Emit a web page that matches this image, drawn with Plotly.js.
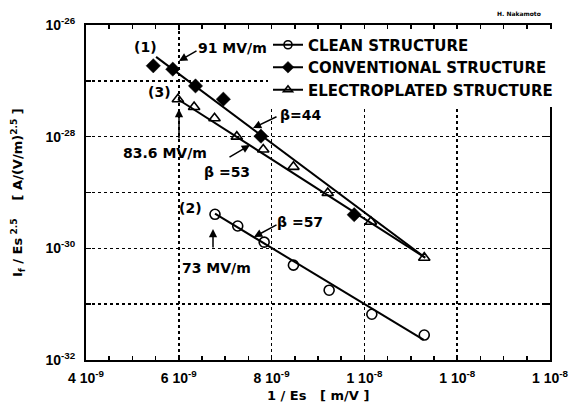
<!DOCTYPE html>
<html>
<head>
<meta charset="utf-8">
<script src="https://cdn.plot.ly/plotly-3.0.1.min.js"></script>
<style>html,body{margin:0;padding:0;background:#fff;}#chart{width:584px;height:409px;}</style>
</head>
<body>
<div id="chart"></div>
<script>
// ---- data (x: 1/Es in m/V, y: If/Es^2.5 in A/(V/m)^2.5) ----
const cleanX = [6.78e-9, 7.27e-9, 7.84e-9, 8.47e-9, 9.24e-9, 10.16e-9, 11.29e-9];
const cleanY = [4.07e-30, 2.51e-30, 1.29e-30, 5.0e-31, 1.78e-31, 6.6e-32, 2.8e-32];

const convX = [5.45e-9, 5.87e-9, 6.36e-9, 6.96e-9, 7.77e-9, 9.78e-9];
const convY = [1.86e-27, 1.62e-27, 8.1e-28, 4.7e-28, 1.02e-28, 4.0e-30];

const elecX = [5.98e-9, 6.33e-9, 6.77e-9, 7.25e-9, 7.82e-9, 8.47e-9, 9.21e-9, 10.14e-9, 11.29e-9];
const elecY = [4.68e-28, 3.39e-28, 2.14e-28, 1.0e-28, 5.9e-29, 2.88e-29, 9.8e-30, 3.0e-30, 6.8e-31];

// fitted lines (end points)
const fit1X = [5.51e-9, 11.31e-9];
const fit1Y = [2.69e-27, 6.8e-31];
const fit2X = [6.78e-9, 11.28e-9];
const fit2Y = [4.17e-30, 2.29e-32];
const fit3X = [5.98e-9, 11.31e-9];
const fit3Y = [4.68e-28, 6.8e-31];

const seriesNames = ['CLEAN STRUCTURE', 'CONVENTIONAL STRUCTURE', 'ELECTROPLATED STRUCTURE'];

const xTickVals = [4e-9, 6e-9, 8e-9, 1e-8, 1.2e-8, 1.4e-8];
const xTickText = ['4 10<sup>-9</sup>', '6 10<sup>-9</sup>', '8 10<sup>-9</sup>', '1 10<sup>-8</sup>', '1 10<sup>-8</sup>', '1 10<sup>-8</sup>'];
const yTickVals = [1e-32, 1e-31, 1e-30, 1e-29, 1e-28, 1e-27, 1e-26];
const yTickText = ['10<sup>-32</sup>', '', '10<sup>-30</sup>', '', '10<sup>-28</sup>', '', '10<sup>-26</sup>'];

// ---- drawing ----
const FONT = 'DejaVu Sans, Verdana, sans-serif';
const TICKFONT = 'Liberation Sans, Arial, Helvetica, sans-serif';
const mk = {
  clean: {symbol: 'circle-open', size: 10, color: 'black', line: {width: 1.6, color: 'black'}},
  conv: {symbol: 'diamond', size: 11, color: 'black', line: {width: 0.5, color: 'black'}},
  elec: {symbol: 'triangle-up-open', size: 10, color: 'black', line: {width: 1.6, color: 'black'}}
};
const lineStyle = {color: 'black', width: 2};

const traces = [
  {x: fit1X, y: fit1Y, mode: 'lines', line: lineStyle, showlegend: false, hoverinfo: 'skip'},
  {x: fit2X, y: fit2Y, mode: 'lines', line: lineStyle, showlegend: false, hoverinfo: 'skip'},
  {x: fit3X, y: fit3Y, mode: 'lines', line: lineStyle, showlegend: false, hoverinfo: 'skip'},
  {x: cleanX, y: cleanY, mode: 'markers', marker: mk.clean, showlegend: false, cliponaxis: false},
  {x: convX, y: convY, mode: 'markers', marker: mk.conv, showlegend: false, cliponaxis: false},
  {x: elecX, y: elecY, mode: 'markers', marker: mk.elec, showlegend: false, cliponaxis: false},
  // legend entries
  {x: [null], y: [null], mode: 'lines+markers', name: seriesNames[0], marker: Object.assign({}, mk.clean, {size: 8}), line: {color: 'black', width: 2}},
  {x: [null], y: [null], mode: 'lines+markers', name: seriesNames[1], marker: Object.assign({}, mk.conv, {size: 9}), line: {color: 'black', width: 2}},
  {x: [null], y: [null], mode: 'lines+markers', name: seriesNames[2], marker: Object.assign({}, mk.elec, {size: 8}), line: {color: 'black', width: 2}}
];

// plot area in pixels: left 86, right 550, top 25, bottom 360
const L = 86, R = 550, T = 25, B = 360;
const px = v => (v - L) / (R - L);
const py = v => (B - v) / (B - T);
const tfont = (s, fam) => ({family: fam || FONT, size: s || 14, color: 'black', weight: 'bold'});

function label(text, x, y, size, extra) {
  return Object.assign({text: text, xref: 'paper', yref: 'paper', x: px(x), y: py(y),
    showarrow: false, font: tfont(size), xanchor: 'center', yanchor: 'middle'}, extra || {});
}
function arrow(hx, hy, tx, ty) {
  return {text: '', xref: 'paper', yref: 'paper', x: px(hx), y: py(hy), ax: tx - hx, ay: ty - hy,
    showarrow: true, arrowhead: 2, arrowsize: 1.1, arrowwidth: 1.5, arrowcolor: 'black', standoff: 0, startstandoff: 0};
}

const annotations = [
  label('(1)', 145, 47),
  label('91 MV/m', 232, 48),
  arrow(179, 61, 198, 50),
  label('(3)', 159, 92),
  arrow(179, 109, 179, 140),
  label('83.6 MV/m', 165, 153),
  label('\u03b2=44', 300, 115),
  arrow(253, 128, 278, 116),
  label('\u03b2 =53', 227, 172),
  arrow(250, 145, 228, 158),
  label('(2)', 190, 208),
  label('\u03b2 =57', 300, 222),
  arrow(254, 237, 278, 224),
  arrow(213, 229, 213, 249),
  label('73 MV/m', 216, 268),
  label('H. Nakamoto', 519, 14, 6),
  label('1 / Es   [ m/V ]', 318, 395, 13),
  label('I<sub>f</sub> / Es<sup> 2.5</sup>    [ A/(V/m)<sup>2.5</sup> ]', 18, 193, 13, {textangle: -90})
];

const axisCommon = {
  showline: true, linecolor: 'black', linewidth: 2, mirror: 'ticks',
  ticks: 'inside', ticklen: 5, tickwidth: 1.5, tickcolor: 'black',
  showgrid: true, gridcolor: 'black', griddash: 'dot', gridwidth: 1.6,
  zeroline: false, tickfont: tfont(14, TICKFONT), fixedrange: true
};

const layout = {
  width: 584, height: 409,
  margin: {l: L, r: 584 - R, t: T, b: 409 - B},
  paper_bgcolor: 'white', plot_bgcolor: 'white',
  font: {family: FONT, size: 14, color: 'black', weight: 'bold'},
  showlegend: true,
  legend: {x: px(268), y: py(28.5), xanchor: 'left', yanchor: 'top', bgcolor: 'white',
    borderwidth: 0, font: tfont(15), tracegroupgap: 0, itemwidth: 30},
  xaxis: Object.assign({}, axisCommon, {
    range: [4e-9, 1.4e-8], tickmode: 'array', tickvals: xTickVals, ticktext: xTickText,
    ticklabelstandoff: 4,
    minor: {tickmode: 'linear', tick0: 4e-9, dtick: 0.5e-9, ticks: 'inside', ticklen: 4, tickwidth: 1.5, tickcolor: 'black', showgrid: false}
  }),
  yaxis: Object.assign({}, axisCommon, {
    type: 'log', range: [-32, -26], tickmode: 'array', tickvals: yTickVals, ticktext: yTickText,
    ticklabelstandoff: 6
  }),
  annotations: annotations
};

Plotly.newPlot('chart', traces, layout, {displayModeBar: false, staticPlot: true});
</script>
</body>
</html>
